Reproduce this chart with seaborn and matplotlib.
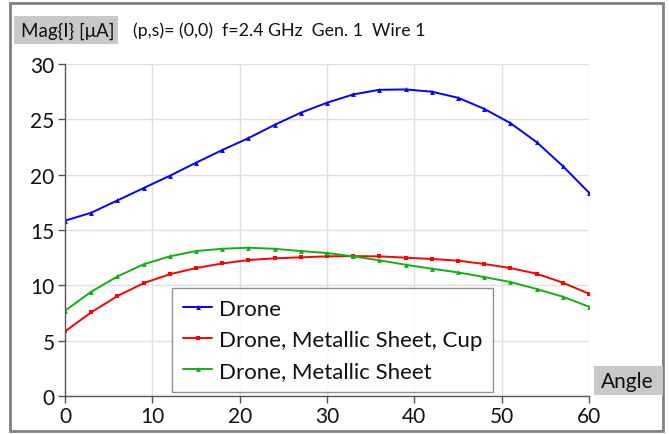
import numpy as np
import pandas as pd
import seaborn as sns
import matplotlib
matplotlib.use("Agg")
import matplotlib.pyplot as plt
from matplotlib.patches import Rectangle

angles = list(range(0, 61, 3))
drone = [15.84, 16.56, 17.67, 18.79, 19.9, 21.08, 22.22, 23.3, 24.5, 25.6, 26.5,
         27.25, 27.67, 27.7, 27.5, 26.95, 25.95, 24.66, 22.94, 20.78, 18.37]
drone_sheet_cup = [5.84, 7.56, 9.03, 10.2, 11.0, 11.56, 11.98, 12.28, 12.44, 12.53, 12.62,
                   12.64, 12.62, 12.5, 12.38, 12.23, 11.93, 11.56, 11.05, 10.24, 9.24]
drone_sheet = [7.7, 9.42, 10.8, 11.9, 12.62, 13.1, 13.3, 13.4, 13.3, 13.1, 12.92,
               12.62, 12.26, 11.86, 11.5, 11.17, 10.75, 10.3, 9.67, 8.97, 8.07]
series_names = ["Drone", "Drone, Metallic Sheet, Cup", "Drone, Metallic Sheet"]
xticks = [0, 10, 20, 30, 40, 50, 60]
yticks = [0, 5, 10, 15, 20, 25, 30]

df = pd.DataFrame({
    "Angle": angles * 3,
    "Value": drone + drone_sheet_cup + drone_sheet,
    "Series": [series_names[0]] * len(angles) + [series_names[1]] * len(angles) + [series_names[2]] * len(angles),
})

sns.set_theme(style="white")
plt.rcParams["font.family"] = ["Lato", "DejaVu Sans"]

W, H = 669, 435
fig = plt.figure(figsize=(W / 100, H / 100), dpi=100)
ax = fig.add_axes([65 / W, 1 - 397 / H, (589 - 65) / W, (397 - 65) / H])

palette = {series_names[0]: "#0000FF", series_names[1]: "#FF0000", series_names[2]: "#11B011"}
markers = {series_names[0]: "^", series_names[1]: "s", series_names[2]: "^"}
sns.lineplot(data=df, x="Angle", y="Value", hue="Series", style="Series",
             palette=palette, markers=markers, dashes=False, markersize=3.5,
             markeredgewidth=0, linewidth=1.4, ax=ax)

ax.set_xlim(0, 60)
ax.set_ylim(0, 30)
ax.set_xticks(xticks)
ax.set_yticks(yticks)
ax.set_xlabel("")
ax.set_ylabel("")
ax.grid(True, color="#e0e0e0", linewidth=1.0)
for s in ["top", "right"]:
    ax.spines[s].set_visible(False)
for s in ["left", "bottom"]:
    ax.spines[s].set_color("#555555")
    ax.spines[s].set_linewidth(1.0)
ax.tick_params(axis="both", which="both", length=5, width=1, color="#555555",
               labelsize=15, labelcolor="#111111", direction="out", pad=2.5)
ax.tick_params(left=True, bottom=True)

leg = ax.legend(loc="lower left", bbox_to_anchor=((172 - 65) / (589 - 65), (397 - 393) / (397 - 65)),
                frameon=True, fancybox=False, fontsize=16, handlelength=1.3,
                handletextpad=0.3, borderpad=0.5, labelspacing=0.5, borderaxespad=0)
leg.get_frame().set_edgecolor("#777777")
leg.get_frame().set_linewidth(1.0)
for t in leg.get_texts():
    t.set_color("#111111")

# outer border
fig.patches.append(Rectangle((10 / W, 1 - 432 / H), (663 - 10) / W, (432 - 4) / H,
                             transform=fig.transFigure, fill=False, edgecolor="#808080", linewidth=2))
# header box
fig.patches.append(Rectangle((14 / W, 1 - 45 / H), (118 - 14) / W, (45 - 17) / H,
                             transform=fig.transFigure, facecolor="#c8c8c8", edgecolor="none"))
fig.text(21 / W, 1 - 31 / H, "Mag{I} [μA]", fontsize=13.5, va="center", ha="left", color="#111111")
fig.text(133 / W, 1 - 31 / H, "(p,s)= (0,0)  f=2.4 GHz  Gen. 1  Wire 1", fontsize=12.8,
         va="center", ha="left", color="#111111")
# Angle box
fig.patches.append(Rectangle((594 / W, 1 - 396 / H), (663 - 594) / W, (396 - 367) / H,
                             transform=fig.transFigure, facecolor="#c8c8c8", edgecolor="none"))
fig.text(601 / W, 1 - 382 / H, "Angle", fontsize=15, va="center", ha="left", color="#111111")

fig.savefig("out.png", dpi=100)
